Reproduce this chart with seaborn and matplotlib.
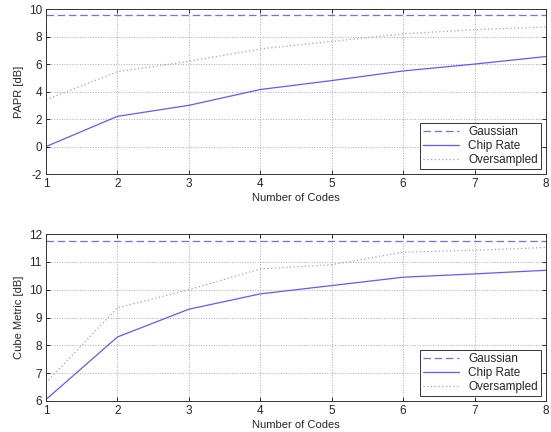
import numpy as np
import pandas as pd
import matplotlib
matplotlib.use("Agg")
import matplotlib.pyplot as plt
import seaborn as sns

codes = [1, 2, 3, 4, 5, 6, 7, 8]

papr_gaussian = [9.6] * 8
papr_chip = [0.0, 2.2, 3.0, 4.15, 4.8, 5.5, 6.0, 6.55]
papr_over = [3.4, 5.45, 6.2, 7.1, 7.65, 8.2, 8.5, 8.7]

cm_gaussian = [11.77] * 8
cm_chip = [6.05, 8.3, 9.3, 9.85, 10.15, 10.45, 10.57, 10.7]
cm_over = [6.65, 9.35, 10.0, 10.75, 10.9, 11.35, 11.42, 11.52]

series_names = ["Gaussian", "Chip Rate", "Oversampled"]

sns.set_style("white")
plt.rcParams['font.family'] = ['Liberation Sans', 'DejaVu Sans']
plt.rcParams['font.size'] = 8
plt.rcParams['axes.unicode_minus'] = False

fig = plt.figure(figsize=(5.51, 4.32), dpi=100)
ax1 = fig.add_axes([0.0835, 0.597, 0.9075, 0.382])
ax2 = fig.add_axes([0.0835, 0.072, 0.9075, 0.386])

palette = {"Gaussian": "#6f6fff", "Chip Rate": "#5c5cff", "Oversampled": "#9a9aff"}
dashes = {"Gaussian": (6, 3), "Chip Rate": "", "Oversampled": (1, 2)}


def make_frame(gauss, chip, over):
    frames = []
    for name, vals in zip(series_names, [gauss, chip, over]):
        frames.append(pd.DataFrame({"codes": codes, "value": vals, "series": name}))
    return pd.concat(frames, ignore_index=True)


def draw_panel(ax, df, ylabel, ylim, yticks):
    sns.lineplot(data=df, x="codes", y="value", hue="series", style="series",
                 palette=palette, dashes=dashes, linewidth=0.9, ax=ax)
    ax.set_xlim(1, 8)
    ax.set_ylim(*ylim)
    ax.set_xticks(codes)
    ax.set_yticks(yticks)
    ax.set_xlabel("Number of Codes", labelpad=2)
    ax.set_ylabel(ylabel, labelpad=3)
    ax.grid(True, color="#aaaaaa", linestyle=":", linewidth=0.7)
    for s in ax.spines.values():
        s.set_color("#333333")
        s.set_linewidth(0.7)
    ax.tick_params(direction="in", length=3, width=0.7, top=True, right=True,
                   bottom=True, left=True, pad=3, labelsize=8.5)
    handles, labels = ax.get_legend_handles_labels()
    leg = ax.legend(handles, labels, loc="lower right", frameon=True, fancybox=False,
                    edgecolor="#333333", framealpha=1, fontsize=8.5, borderpad=0.3,
                    labelspacing=0.15, handlelength=3, handletextpad=0.8,
                    borderaxespad=0.4)
    leg.get_frame().set_linewidth(0.7)


draw_panel(ax1, make_frame(papr_gaussian, papr_chip, papr_over), "PAPR [dB]",
           (-2, 10), [-2, 0, 2, 4, 6, 8, 10])
draw_panel(ax2, make_frame(cm_gaussian, cm_chip, cm_over), "Cube Metric [dB]",
           (6, 12), [6, 7, 8, 9, 10, 11, 12])

fig.savefig("out.png", dpi=100)
